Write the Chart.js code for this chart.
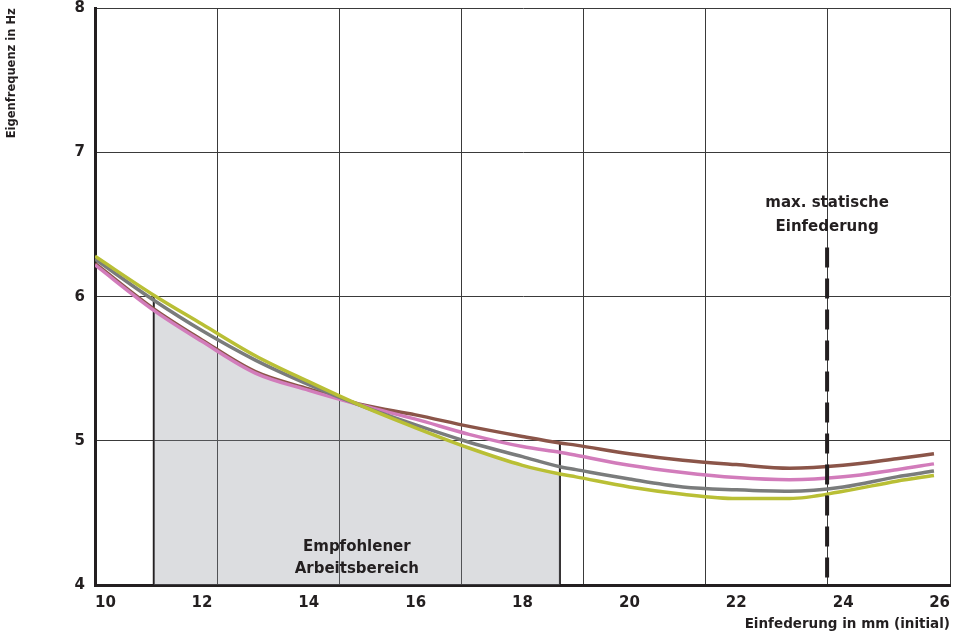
<!DOCTYPE html>
<html>
<head>
<meta charset="utf-8">
<script src="https://cdn.jsdelivr.net/npm/chart.js@4"></script>
<style>
  body { margin: 0; background: #fff; }
  #wrap { width: 954px; height: 634px; }
</style>
</head>
<body>
<div id="wrap"><canvas id="grafico"></canvas></div>
<script>
// values (mm / Hz)
const xValues = [10, 11.1, 12, 13, 14, 15, 16, 17, 18, 18.7, 19, 20, 21, 22, 23, 24, 25, 25.7];
const olive = [6.28, 6.01, 5.81, 5.59, 5.41, 5.24, 5.09, 4.95, 4.83, 4.77, 4.75, 4.68, 4.63, 4.60, 4.60, 4.65, 4.72, 4.76];
const gray  = [6.26, 5.975, 5.765, 5.56, 5.39, 5.24, 5.11, 4.99, 4.89, 4.82, 4.80, 4.735, 4.68, 4.66, 4.65, 4.68, 4.75, 4.79];
const pink  = [6.22, 5.905, 5.69, 5.47, 5.35, 5.245, 5.15, 5.045, 4.96, 4.92, 4.90, 4.83, 4.78, 4.745, 4.73, 4.75, 4.80, 4.84];
const brown = [6.23, 5.915, 5.70, 5.48, 5.36, 5.25, 5.18, 5.10, 5.03, 4.985, 4.97, 4.91, 4.865, 4.835, 4.81, 4.83, 4.875, 4.91];

const xTicks = [10, 12, 14, 16, 18, 20, 22, 24, 26];
const yTicks = [4, 5, 6, 7, 8];

const workRange = [11.1, 18.7];   // Empfohlener Arbeitsbereich
const maxStatic = 23.7;           // max. statische Einfederung

const dark = '#231f20';
const fontName = 'DejaVu Sans';

function points(values) {
  return xValues.map((x, i) => ({ x: x, y: values[i] }));
}

const lowest = xValues.map((x, i) => ({ x: x, y: Math.min(olive[i], gray[i], pink[i], brown[i]) }))
  .filter(p => p.x >= workRange[0] && p.x <= workRange[1]);

function highestAt(x) {
  const i = xValues.indexOf(x);
  return Math.max(olive[i], gray[i], pink[i], brown[i]);
}

const annotations = {
  id: 'annotations',
  beforeDatasetsDraw(chart) {
    const { ctx, scales } = chart;
    ctx.save();
    ctx.strokeStyle = dark;
    ctx.lineWidth = 2;
    workRange.forEach(x => {
      const px = scales.x.getPixelForValue(x);
      ctx.beginPath();
      ctx.moveTo(px, scales.y.getPixelForValue(4));
      ctx.lineTo(px, scales.y.getPixelForValue(highestAt(x)));
      ctx.stroke();
    });
    ctx.restore();
  },
  afterDatasetsDraw(chart) {
    const { ctx, scales } = chart;
    const px = scales.x.getPixelForValue(maxStatic);
    ctx.save();
    ctx.strokeStyle = dark;
    ctx.lineWidth = 4;
    ctx.setLineDash([20, 11]);
    ctx.beginPath();
    ctx.moveTo(px, scales.y.getPixelForValue(6.34));
    ctx.lineTo(px, scales.y.getPixelForValue(4));
    ctx.stroke();
    ctx.setLineDash([]);

    ctx.fillStyle = dark;
    ctx.font = 'bold 15px ' + fontName;
    ctx.textAlign = 'center';
    ctx.textBaseline = 'middle';
    ctx.fillText('max. statische', px, scales.y.getPixelForValue(6.65));
    ctx.fillText('Einfederung', px, scales.y.getPixelForValue(6.48));

    const mid = scales.x.getPixelForValue((workRange[0] + workRange[1]) / 2);
    ctx.fillText('Empfohlener', mid, scales.y.getPixelForValue(4.26));
    ctx.fillText('Arbeitsbereich', mid, scales.y.getPixelForValue(4.11));
    ctx.restore();
  }
};

const line = (values, color) => ({
  data: points(values),
  borderColor: color,
  borderWidth: 3.5,
  pointRadius: 0,
  cubicInterpolationMode: 'monotone',
  fill: false
});

new Chart(document.getElementById('grafico'), {
  type: 'line',
  data: {
    datasets: [
      line(olive, '#b9bf35'),
      line(gray, '#7a7c7c'),
      line(pink, '#d27cbb'),
      line(brown, '#8b5549'),
      {
        data: lowest,
        borderWidth: 0,
        pointRadius: 0,
        cubicInterpolationMode: 'monotone',
        backgroundColor: 'rgba(138,142,152,0.3)',
        fill: 'start'
      }
    ]
  },
  options: {
    maintainAspectRatio: false,
    animation: false,
    layout: { padding: { top: 0, right: 4, bottom: 0, left: 0 } },
    plugins: { legend: { display: false }, tooltip: { enabled: false } },
    scales: {
      x: {
        type: 'linear',
        position: 'bottom',
        min: 10,
        max: 26,
        afterBuildTicks: s => { s.ticks = xTicks.map(v => ({ value: v })); },
        afterFit: s => { s.height = 49; },
        ticks: {
          align: 'inner',
          padding: 0,
          color: dark,
          font: { family: fontName, size: 15, weight: 'bold' }
        },
        grid: { drawOnChartArea: false, drawTicks: true, tickLength: 9, tickColor: 'transparent' },
        border: { color: dark, width: 3 },
        title: {
          display: true,
          text: 'Einfederung in mm (initial)',
          align: 'end',
          color: dark,
          font: { family: fontName, size: 13.5, weight: 'bold' },
          padding: { top: 0, bottom: 1 }
        }
      },
      xg: {
        type: 'linear',
        position: 'top',
        min: 10,
        max: 26,
        ticks: { display: false, count: 8 },
        grid: { color: '#3a3a3a', lineWidth: 1, drawTicks: false },
        border: { display: false }
      },
      y: {
        min: 4,
        max: 8,
        afterBuildTicks: s => { s.ticks = yTicks.map(v => ({ value: v })); },
        afterFit: s => { s.width = 95; },
        ticks: {
          padding: 0,
          color: dark,
          font: { family: fontName, size: 15, weight: 'bold', lineHeight: 1.1 }
        },
        grid: { color: '#3a3a3a', lineWidth: 1, drawTicks: true, tickLength: 10, tickColor: 'transparent' },
        border: { color: dark, width: 3 },
        title: {
          display: true,
          text: 'Eigenfrequenz in Hz',
          align: 'end',
          color: dark,
          font: { family: fontName, size: 11.5, weight: 'bold' },
          padding: { top: 5, bottom: 0 }
        }
      }
    }
  },
  plugins: [annotations]
});
</script>
</body>
</html>
